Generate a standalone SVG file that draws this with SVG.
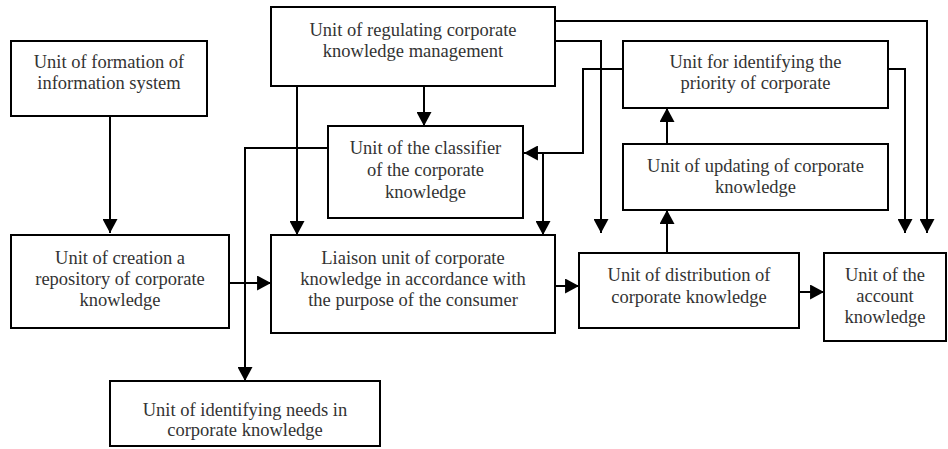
<svg xmlns="http://www.w3.org/2000/svg" width="948" height="449" viewBox="0 0 948 449">
<style>
.box{fill:#fff;stroke:#000;stroke-width:2}
text{font-family:'Liberation Serif','Times New Roman',serif;font-size:18.5px;fill:#333;text-anchor:middle}
.c{fill:none;stroke:#000;stroke-width:2}
</style>
<defs>
<marker id="ah" markerUnits="userSpaceOnUse" markerWidth="15" markerHeight="15" refX="13" refY="7" orient="auto" viewBox="0 0 14 14">
<path d="M0,0 L13,7 L0,14 z" fill="#000"/>
</marker>
</defs>
<rect width="948" height="449" fill="#fff"/>
<g id="connectors">
<path class="c" d="M110,116 V233" marker-end="url(#ah)"/>
<path class="c" d="M229,283 H271" marker-end="url(#ah)"/>
<path class="c" d="M297,86 V235" marker-end="url(#ah)"/>
<path class="c" d="M424,86 V126" marker-end="url(#ah)"/>
<path class="c" d="M328,148 H245 V381" marker-end="url(#ah)"/>
<path class="c" d="M623,69 H583 V153 H524" marker-end="url(#ah)"/>
<path class="c" d="M543,153 V235" marker-end="url(#ah)"/>
<path class="c" d="M555,41 H601 V233" marker-end="url(#ah)"/>
<path class="c" d="M555,21 H927 V233" marker-end="url(#ah)"/>
<path class="c" d="M888,69 H905 V233" marker-end="url(#ah)"/>
<path class="c" d="M667,144 V108" marker-end="url(#ah)"/>
<path class="c" d="M667,253 V210" marker-end="url(#ah)"/>
<path class="c" d="M555,286 H579" marker-end="url(#ah)"/>
<path class="c" d="M799,292 H824" marker-end="url(#ah)"/>
</g>
<g id="formation">
<rect class="box" x="11" y="41" width="196" height="75"/>
<text x="109" y="68">Unit of formation of</text>
<text x="109" y="89">information system</text>
</g>
<g id="regulating">
<rect class="box" x="271" y="7" width="284" height="79"/>
<text x="413" y="36">Unit of regulating corporate</text>
<text x="413" y="57">knowledge management</text>
</g>
<g id="classifier">
<rect class="box" x="328" y="126" width="195" height="92"/>
<text x="425.5" y="154">Unit of the classifier</text>
<text x="425.5" y="176">of the corporate</text>
<text x="425.5" y="198">knowledge</text>
</g>
<g id="priority">
<rect class="box" x="623" y="41" width="265" height="67"/>
<text x="755.5" y="68">Unit for identifying the</text>
<text x="755.5" y="89">priority of corporate</text>
</g>
<g id="updating">
<rect class="box" x="623" y="144" width="265" height="66"/>
<text x="755.5" y="172">Unit of updating of corporate</text>
<text x="755.5" y="193">knowledge</text>
</g>
<g id="repository">
<rect class="box" x="11" y="235" width="218" height="93"/>
<text x="120" y="264">Unit of creation a</text>
<text x="120" y="285">repository of corporate</text>
<text x="120" y="306">knowledge</text>
</g>
<g id="liaison">
<rect class="box" x="271" y="235" width="284" height="98"/>
<text x="413" y="264">Liaison unit of corporate</text>
<text x="413" y="285">knowledge in accordance with</text>
<text x="413" y="306">the purpose of the consumer</text>
</g>
<g id="distribution">
<rect class="box" x="579" y="253" width="220" height="75"/>
<text x="689" y="281">Unit of distribution of</text>
<text x="689" y="303">corporate knowledge</text>
</g>
<g id="account">
<rect class="box" x="824" y="253" width="122" height="88"/>
<text x="885" y="281">Unit of the</text>
<text x="885" y="302">account</text>
<text x="885" y="323">knowledge</text>
</g>
<g id="needs">
<rect class="box" x="110" y="381" width="270" height="65"/>
<text x="245" y="416">Unit of identifying needs in</text>
<text x="245" y="436">corporate knowledge</text>
</g>
</svg>
